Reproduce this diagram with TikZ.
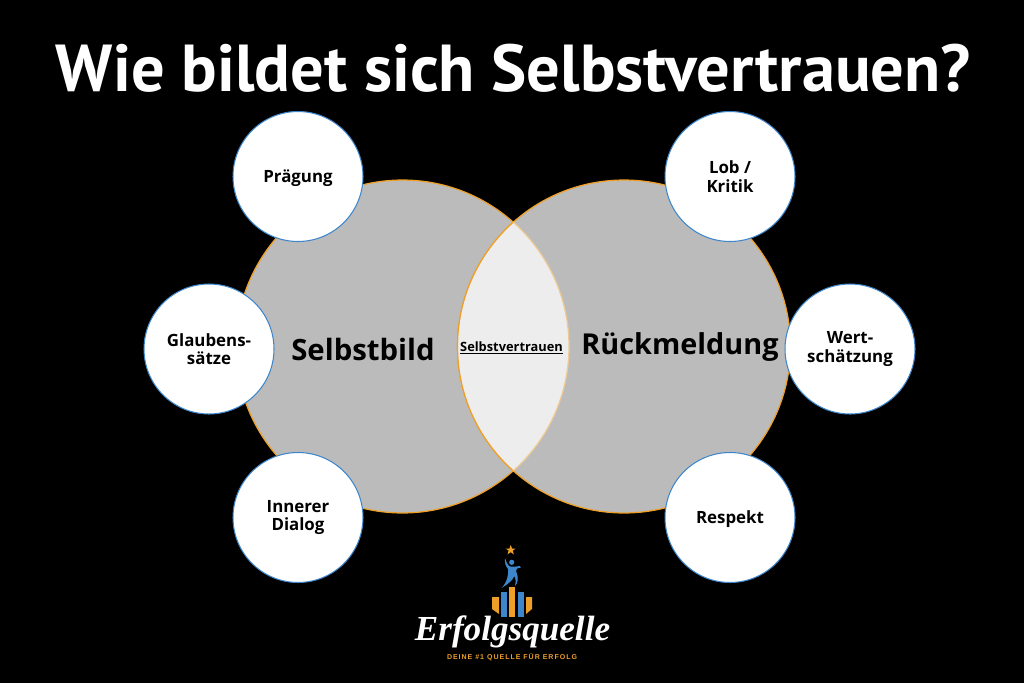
\documentclass[tikz,border=0pt]{standalone}
\usepackage{fontspec}
\setmainfont{Open Sans}
\newfontfamily\titlefont{PT Sans}
\newfontfamily\logofont{Liberation Serif}
\newfontfamily\tagfont[LetterSpace=14]{Liberation Sans}
\usetikzlibrary{calc, positioning}
\definecolor{ringorange}{HTML}{EE9F27}
\definecolor{ringblue}{HTML}{3E86CB}
\definecolor{discgray}{HTML}{BBBBBB}
\definecolor{lensgray}{HTML}{EDEDED}
\begin{document}
\begin{tikzpicture}[x=0.02cm,y=-0.02cm,thick,
    big disc/.style={circle,fill=discgray,draw=ringorange,line width=0.7pt,minimum size=6.66cm,inner sep=0pt},
    main node/.style={circle,fill=white,draw=ringblue,line width=0.6pt,minimum size=2.6cm,inner sep=0pt,align=center,font=\fontsize{9.6}{10.6}\selectfont\bfseries},
    big label/.style={font=\fontsize{16.7}{18}\selectfont\bfseries}]

  \fill[black] (0,0) rectangle (1024,683);
  \useasboundingbox (0,0) rectangle (1024,683);

  \node (title) at (513.5,68) [text=white,font=\titlefont\fontsize{37.8}{44}\selectfont\bfseries] {Wie bildet sich Selbstvertrauen?};

  \node[big disc] (LDisc) at (402.5,346.5) {};
  \node[big disc] (RDisc) at (624,346.5) {};

  % the lens of the two discs
  \begin{scope}
    \clip (402.5,346.5) circle (166.5);
    \fill[lensgray] (624,346.5) circle (166.5);
    \draw[ringorange,line width=0.7pt] (624,346.5) circle (166.5);
  \end{scope}
  \begin{scope}
    \clip (624,346.5) circle (166.5);
    \draw[ringorange!45!lensgray,line width=0.7pt] (402.5,346.5) circle (166.5);
  \end{scope}

  \node[main node,text depth=0pt] (1) at (298,176.5) {Prägung};
  \node[main node] (2) at (209,349) {Glaubens-\\sätze};
  \node[main node] (3) at (298,517.5) {Innerer\\Dialog};
  \node[main node] (4) at (730,176.5) {Lob /\\Kritik};
  \node[main node] (5) at (850,349) {Wert-\\schätzung};
  \node[main node,text depth=0pt] (6) at (730,517.5) {Respekt};

  \node[big label] (LText) at (363,349) {Selbstbild};
  \node[big label,font=\fontsize{16.4}{18}\selectfont\bfseries] (RText) at (680,347) {Rückmeldung};
  \node[font=\fontsize{7.3}{9}\selectfont\bfseries] (MText) at (511.5,348) {\underline{Selbstvertrauen}};

  % logo
  \fill[ringorange] (510.7,545)--(512,548.5)--(515.7,548.5)--(512.8,550.7)--(513.8,554.3)--(510.7,552.2)--(507.6,554.3)--(508.6,550.7)--(505.7,548.5)--(509.4,548.5)--cycle;
  \fill[ringblue] (511.7,562.3) circle (2.6);
  \fill[ringblue] (505,558) .. controls (504.5,563) and (505.5,566) .. (508,569) .. controls (509,574) and (507,582) .. (501.7,588) .. controls (508,584) and (512,581) .. (514.5,576) .. controls (516,580) and (516,583) .. (515,586) .. controls (518,583) and (519,578) .. (516,571) .. controls (516,569) and (517,568) .. (520.7,567.7) -- (520,566) .. controls (516,566.5) and (512,567.5) .. (509,566) .. controls (507,564) and (506,561) .. (505,558) -- cycle;
  \fill[ringorange] (492,597) -- (499,597) -- (499,614) -- (492,609) -- cycle;
  \fill[ringblue] (501,592) rectangle (507,617);
  \fill[ringorange] (509,587) rectangle (515,617);
  \fill[ringblue] (518,592) rectangle (524,617);
  \fill[ringorange] (526,597) -- (532,597) -- (532,609) -- (526,614) -- cycle;
  \node[text=white,font=\logofont\fontsize{20}{24}\selectfont\bfseries\itshape] (LogoText) at (512.5,632) {Erfolgsquelle};
  \node[text=ringorange,font=\tagfont\fontsize{4}{5}\selectfont\bfseries] (LogoTag) at (512,657) {DEINE \#1 QUELLE FÜR ERFOLG};
\end{tikzpicture}
\end{document}
